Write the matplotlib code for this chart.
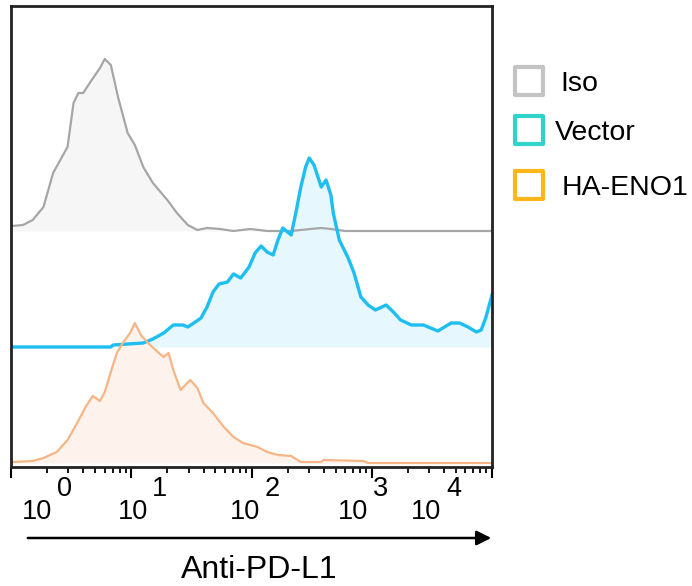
import matplotlib
matplotlib.use('Agg')
import matplotlib.pyplot as plt
from matplotlib.patches import Rectangle
import numpy as np

plt.rcParams['font.family'] = ['Liberation Sans', 'DejaVu Sans']

W, H = 692, 586

# histogram outlines: x in log10 units, heights in counts above each baseline
iso_logx = [0.01, 0.10, 0.18, 0.27, 0.35, 0.41, 0.47, 0.52, 0.56, 0.60, 0.66, 0.74, 0.78, 0.83,
            0.89, 0.97, 1.03, 1.10, 1.18, 1.30, 1.38, 1.47, 1.55, 1.63, 1.74, 1.85, 1.99, 2.13,
            2.33, 2.49, 2.58, 2.66, 2.78, 3.24, 4.0]
iso_counts = [5, 6, 11, 24, 58, 71, 84, 128, 138, 138, 149, 163, 172, 166,
              134, 98, 86, 64, 48, 31, 18, 6, 1, 3, 2, 0, 2, 0,
              0, 2, 3, 2, 0, 0, 0]

vec_logx = [0.01, 0.83, 0.85, 0.97, 1.10, 1.18, 1.27, 1.35, 1.43, 1.47, 1.52, 1.58, 1.63, 1.68,
            1.73, 1.80, 1.85, 1.91, 1.98, 2.03, 2.08, 2.13, 2.18, 2.22, 2.26, 2.33, 2.37, 2.41,
            2.45, 2.48, 2.52, 2.58, 2.62, 2.66, 2.68, 2.73, 2.80, 2.85, 2.91, 2.97, 3.03, 3.12,
            3.18, 3.24, 3.33, 3.43, 3.55, 3.66, 3.73, 3.80, 3.87, 3.91, 3.95, 4.0]
vec_counts = [0, 0, 2, 3, 4, 8, 14, 22, 22, 20, 24, 29, 40, 55,
              63, 65, 73, 69, 80, 94, 101, 95, 92, 107, 119, 112, 135, 160,
              180, 189, 182, 160, 167, 152, 134, 107, 90, 75, 50, 42, 37, 42,
              35, 27, 22, 22, 16, 24, 24, 20, 15, 17, 30, 52]

ha_logx = [0.01, 0.18, 0.27, 0.38, 0.47, 0.55, 0.62, 0.68, 0.74, 0.78, 0.83, 0.88, 0.93, 0.99,
           1.03, 1.08, 1.14, 1.22, 1.27, 1.31, 1.35, 1.41, 1.49, 1.55, 1.60, 1.68, 1.77, 1.85,
           1.93, 2.05, 2.13, 2.22, 2.33, 2.41, 2.58, 2.60, 2.93, 2.97, 4.0]
ha_counts = [1, 2, 5, 11, 23, 40, 56, 67, 62, 71, 91, 110, 120, 130,
             140, 128, 120, 111, 106, 110, 93, 73, 83, 75, 60, 50, 36, 26,
             20, 16, 11, 8, 7, 1, 1, 3, 2, 0, 0]

names = ['Iso', 'Vector', 'HA-ENO1']
baselines = [236, 120, 4]
line_colors = ['#a6a6a6', '#1ebff0', '#f7b585']
fill_colors = ['#f6f6f6', '#e6f8fd', '#fdf3ec']
box_colors = ['#c4c4c4', '#2fd3c9', '#ffb61a']
line_widths = [1.6, 2.4, 1.6]

tick_exps = ['0', '1', '2', '3', '4']


def fx(px):
    return px / W


def fy(py):
    return 1 - py / H


fig = plt.figure(figsize=(W / 100, H / 100), dpi=100)
ax = fig.add_axes([fx(11), fy(467), (492 - 11) / W, (467 - 6) / H])

curves = [(iso_logx, iso_counts), (vec_logx, vec_counts), (ha_logx, ha_counts)]
for (lx, cnt), base, lc, fc, lw in zip(curves, baselines, line_colors, fill_colors, line_widths):
    x = 10 ** np.array(lx)
    y = base + np.array(cnt)
    ax.fill_between(x, base, y, color=fc, lw=0, zorder=1)
    ax.plot(x, y, color=lc, lw=lw, zorder=2, solid_joinstyle='round')

ax.set_xscale('log')
ax.set_xlim(1, 1e4)
ax.set_ylim(0, 461)
ax.set_yticks([])
ax.set_xticks([1, 10, 100, 1000, 10000])
ax.set_xticklabels([])
ax.tick_params(axis='x', which='major', length=8, width=1.5, direction='out')
ax.tick_params(axis='x', which='minor', length=4, width=1.3, direction='out', labelbottom=False)
for s in ax.spines.values():
    s.set_linewidth(2)
    s.set_color('#222222')

# tick labels drawn by hand: the reference has big, offset superscripts
base_x = [37, 133, 245, 353, 426]
sup_x = [65, 159, 272, 381, 454]
for bx, sx, e in zip(base_x, sup_x, tick_exps):
    fig.text(fx(bx), fy(512), '10', fontsize=19.5, ha='center', va='center')
    fig.text(fx(sx), fy(489), e, fontsize=19.5, ha='center', va='center')

ax.annotate('', xy=(fx(494), fy(538)), xytext=(fx(25), fy(538)),
            xycoords='figure fraction', textcoords='figure fraction',
            arrowprops=dict(arrowstyle='-|>', lw=1.8, color='black', mutation_scale=22))
fig.text(fx(259), fy(570), 'Anti-PD-L1', fontsize=23, ha='center', va='center')

# legend
box_y = [81, 130, 185]
text_x = [560, 555, 562]
for name, c, by, tx in zip(names, box_colors, box_y, text_x):
    fig.patches.append(Rectangle((fx(515), fy(by + 14)), 28 / W, 28 / H, transform=fig.transFigure,
                                 fill=False, edgecolor=c, lw=3, joinstyle='round'))
    fig.text(fx(tx), fy(by + 3), name, fontsize=20.5, ha='left', va='center')

fig.savefig('out.png', dpi=100)
